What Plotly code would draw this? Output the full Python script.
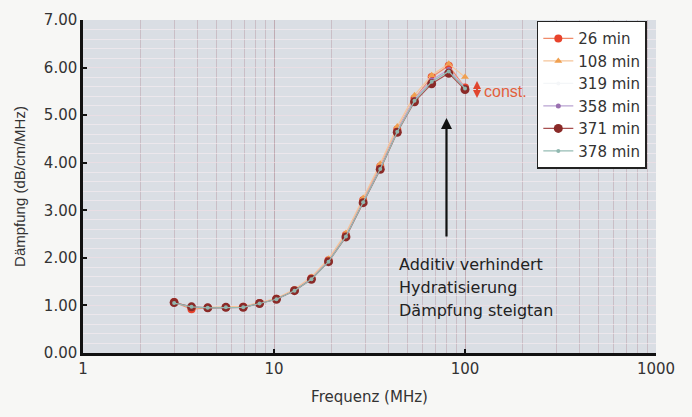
import plotly.graph_objects as go
import numpy as np

freq = [3.0, 3.7, 4.5, 5.6, 6.9, 8.4, 10.3, 12.8, 15.7, 19.3, 23.8, 29.3, 36.0, 44.2, 54.4, 66.9, 82.2, 100]
d26 = [1.07, 0.92, 0.95, 0.96, 0.97, 1.05, 1.14, 1.32, 1.57, 1.95, 2.48, 3.21, 3.92, 4.70, 5.35, 5.80, 6.04, 5.58]
d108 = [1.08, 0.95, 0.96, 0.97, 0.98, 1.06, 1.15, 1.34, 1.60, 1.98, 2.52, 3.26, 3.98, 4.76, 5.42, 5.84, 6.08, 5.80]
d319 = [1.06, 0.97, 0.95, 0.96, 0.96, 1.04, 1.13, 1.31, 1.56, 1.93, 2.46, 3.18, 3.89, 4.67, 5.33, 5.74, 5.96, 5.58]
d358 = [1.06, 0.97, 0.95, 0.96, 0.96, 1.04, 1.13, 1.31, 1.56, 1.93, 2.46, 3.18, 3.89, 4.67, 5.33, 5.74, 5.96, 5.58]
d371 = [1.06, 0.97, 0.95, 0.96, 0.96, 1.04, 1.13, 1.31, 1.55, 1.92, 2.44, 3.16, 3.86, 4.64, 5.28, 5.66, 5.88, 5.54]
d378 = [1.05, 0.97, 0.95, 0.96, 0.96, 1.04, 1.13, 1.31, 1.55, 1.92, 2.45, 3.17, 3.87, 4.65, 5.30, 5.70, 5.92, 5.56]

series = [
    ("26 min", d26, "#f08a6a", "#e8432c", "circle", 8),
    ("108 min", d108, "#f5c59a", "#f0a050", "triangle-up", 7),
    ("319 min", d319, "#f4f6f8", "#f4f6f8", "circle", 4),
    ("358 min", d358, "#b9a3d2", "#9a70b0", "circle", 5),
    ("371 min", d371, "#a85050", "#8a2a28", "circle", 9),
    ("378 min", d378, "#96bcb4", "#90b8b0", "circle", 4),
]

FONT = "DejaVu Sans, Liberation Sans, Arial, sans-serif"
NFONT = "Liberation Sans, Arial, sans-serif"

fig = go.Figure()
for i, (name, vals, lc, mc, sym, ms) in enumerate(series):
    fig.add_trace(go.Scatter(
        x=freq, y=vals, name=name, mode="lines+markers",
        legendgroup=name,
        line=dict(color=lc, width=1.2),
        marker=dict(color=mc, symbol=sym, size=ms),
    ))

fig.update_layout(
    width=692, height=417,
    margin=dict(l=83, r=36, t=20, b=64),
    paper_bgcolor="#f7f7f5",
    plot_bgcolor="#dadee4",
    font=dict(family=FONT, size=15, color="#333333"),
    showlegend=True,
    legend=dict(
        x=0.792, y=0.998, xanchor="left", yanchor="top",
        bgcolor="#ffffff", bordercolor="#222222", borderwidth=1.5,
        font=dict(family=FONT, size=15, color="#333333"),
        tracegroupgap=0, itemwidth=30,
    ),
    xaxis=dict(
        type="log", range=[0, 3],
        tickvals=[1, 10, 100, 1000], ticktext=["1", "10", "100", "1000"],
        showline=True, linecolor="#111111", linewidth=2.5,
        ticks="inside", ticklen=4, tickwidth=2, tickcolor="#111111",
        showgrid=True, gridcolor="rgba(175,140,150,0.38)", gridwidth=1,
        minor=dict(dtick="D1", showgrid=True, gridcolor="rgba(175,140,150,0.38)", gridwidth=1, ticks=""),
        title=dict(text="Frequenz (MHz)", font=dict(size=15)),
        zeroline=False, mirror=False,
    ),
    yaxis=dict(
        range=[0, 7], dtick=1, tickformat=".2f",
        showline=True, linecolor="#111111", linewidth=2.5,
        ticks="inside", ticklen=4, tickwidth=2, tickcolor="#111111",
        showgrid=True, gridcolor="rgba(240,222,228,0.7)", gridwidth=1,
        minor=dict(dtick=0.2, showgrid=True, gridcolor="rgba(248,236,242,0.6)", gridwidth=1, ticks=""),
        title=dict(text="Dämpfung (dB/cm/MHz)", font=dict(family=NFONT, size=15)),
        zeroline=False,
    ),
)

# arrow
ax_x = np.log10(80)
fig.add_annotation(x=ax_x, y=4.94, ax=ax_x, ay=2.42, xref="x", yref="y", axref="x", ayref="y",
                   showarrow=True, arrowhead=2, arrowsize=1, arrowwidth=2.2, arrowcolor="#111111", text="")

for txt, yv in [("Additiv verhindert", 1.86), ("Hydratisierung", 1.38), ("Dämpfung steigtan", 0.90)]:
    fig.add_annotation(x=1.645, y=yv, xref="x", yref="y", text=txt, showarrow=False,
                       xanchor="left", yanchor="middle",
                       font=dict(family=FONT, size=16, color="#222222"))

# const. double arrow
cx = 2.063
fig.add_annotation(x=cx, y=5.72, ax=cx, ay=5.33, xref="x", yref="y", axref="x", ayref="y",
                   showarrow=True, arrowhead=2, arrowside="end+start", arrowsize=0.8, arrowwidth=2,
                   arrowcolor="#e0452e", text="")
fig.add_annotation(x=2.09, y=5.50, xref="x", yref="y", text="const.", showarrow=False,
                   xanchor="left", yanchor="middle",
                   font=dict(family=NFONT, size=16, color="#e2603c"))

fig.write_html("out.html")
